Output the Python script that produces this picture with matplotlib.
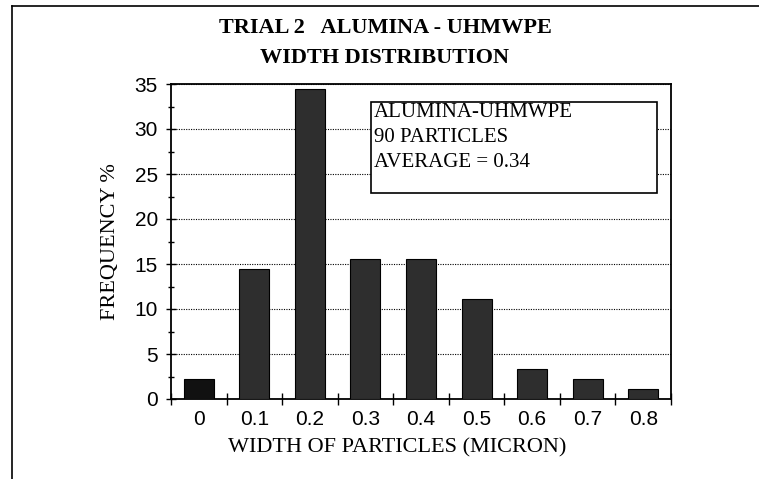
import numpy as np
import matplotlib
matplotlib.use('Agg')
import matplotlib.pyplot as plt
from matplotlib.pyplot import MultipleLocator
from matplotlib.patches import Rectangle
from matplotlib.lines import Line2D

# 數據
width_labels = ['0', '0.1', '0.2', '0.3', '0.4', '0.5', '0.6', '0.7', '0.8']
frequency = [2.2, 14.4, 34.4, 15.6, 15.6, 11.1, 3.3, 2.2, 1.1]
bar_colors = ['#111111', '#2e2e2e', '#2e2e2e', '#2e2e2e', '#2e2e2e', '#2e2e2e', '#2e2e2e', '#2e2e2e', '#2e2e2e']
info_lines = ['ALUMINA-UHMWPE', '90 PARTICLES', 'AVERAGE = 0.34']

serif = 'Liberation Serif'
sans = 'Liberation Sans'

fig = plt.figure(figsize=(7.59, 4.79), dpi=100)
W, H = 759, 479
ax = fig.add_axes([171 / W, 1 - 399 / H, 500 / W, 315 / H])

x = np.arange(len(frequency))
ax.bar(x, frequency, width=0.54, color=bar_colors, edgecolor='black', linewidth=0.8, zorder=3)

ax.set_xlim(-0.5, len(frequency) - 0.5)
ax.set_ylim(0, 35)

# y 軸
ax.yaxis.set_major_locator(MultipleLocator(5))
ax.yaxis.set_minor_locator(MultipleLocator(2.5))
ax.tick_params(axis='y', which='major', direction='inout', length=7, width=1, labelsize=15, pad=6)
ax.tick_params(axis='y', which='minor', direction='inout', length=5, width=1)
ax.grid(True, axis='y', which='major', linestyle=(0, (1, 1.2)), color='black', linewidth=0.8, zorder=1)

# x 軸：標籤在中間，刻度在分界
ax.set_xticks(x)
ax.set_xticklabels(width_labels)
ax.set_xticks(np.arange(-0.5, len(frequency), 1), minor=True)
ax.tick_params(axis='x', which='major', length=0, labelsize=15, pad=8)
ax.tick_params(axis='x', which='minor', direction='inout', length=9, width=1)

for lab in ax.get_xticklabels() + ax.get_yticklabels():
    lab.set_fontfamily(sans)

for s in ax.spines.values():
    s.set_linewidth(1.3)

ax.set_ylabel('FREQUENCY %', fontfamily=serif, fontsize=16)
ax.yaxis.set_label_coords((120 - 171) / 500, 0.5)
fig.text(397 / W, 1 - 448 / H, 'WIDTH OF PARTICLES (MICRON)', fontfamily=serif, fontsize=16,
         ha='center', va='center')

# 說明框
bx0, bx1 = (371 - 171) / 500, (657 - 171) / 500
by0, by1 = (399 - 193) / 315, (399 - 102) / 315
ax.add_patch(Rectangle((bx0, by0), bx1 - bx0, by1 - by0, transform=ax.transAxes,
                       facecolor='white', edgecolor='black', linewidth=1.2, zorder=4))
for k, line in enumerate(info_lines):
    ax.text(bx0 + 0.006, by1 - 0.003 - k * 0.08, line, transform=ax.transAxes,
            fontfamily=serif, fontsize=15, va='top', ha='left', zorder=5)

# 標題
fig.text(385 / W, 1 - 28 / H, 'TRIAL 2   ALUMINA - UHMWPE', fontfamily=serif, fontweight='bold',
         fontsize=16, ha='center', va='center')
fig.text(385 / W, 1 - 58 / H, 'WIDTH DISTRIBUTION', fontfamily=serif, fontweight='bold',
         fontsize=16, ha='center', va='center')

# 外框
fig.add_artist(Line2D([12 / W, 1], [1 - 6 / H, 1 - 6 / H], color='black', linewidth=1.2))
fig.add_artist(Line2D([12 / W, 12 / W], [0, 1 - 6 / H], color='black', linewidth=1.2))

plt.savefig('out.png', dpi=100)
plt.close()
